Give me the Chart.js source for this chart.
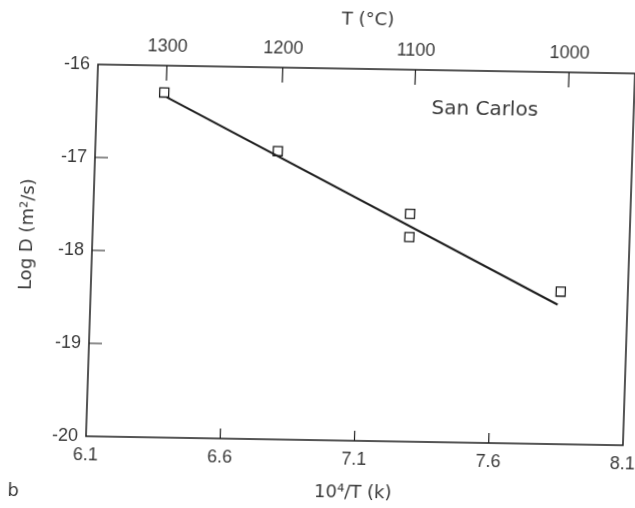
<!DOCTYPE html>
<html>
<head>
<meta charset="utf-8">
<script src="https://cdn.jsdelivr.net/npm/chart.js@4.4.0/dist/chart.umd.min.js"></script>
<style>
  html, body { margin: 0; padding: 0; background: #fff; overflow: hidden; }
  #wrap { width: 635px; height: 508px; overflow: hidden; position: relative; }
  /* the scanned figure sits slightly askew on the page */
  #chart {
    position: absolute; left: 0; top: 0;
    transform-origin: 360.5px 255px;
    transform: matrix(1, 0.0168, -0.0323, 1, 0, 0);
  }
</style>
</head>
<body>
<div id="wrap"><canvas id="chart" width="650" height="508"></canvas></div>
<script>
// values
const tempTicksC = [1300, 1200, 1100, 1000];
const bottomTicks = [6.1, 6.6, 7.1, 7.6, 8.1];
const leftTicks = [-20, -19, -18, -17, -16];

const invT = [6.35, 6.78, 7.28, 7.28, 7.85];
const logD = [-16.29, -16.90, -17.55, -17.80, -18.36];

const fitX = [6.36, 7.84];
const fitY = [-16.34, -18.50];

const ink = "#1e1e1e";
const textInk = "#3a3a3a";

const frame = {
    id: "frame",
    afterDraw(chart) {
        const { ctx, chartArea: a, scales } = chart;
        ctx.save();
        ctx.strokeStyle = ink;
        ctx.lineWidth = 1.5;
        ctx.strokeRect(a.left, a.top, a.right - a.left, a.bottom - a.top);

        // inward ticks
        ctx.lineWidth = 1.2;
        ctx.beginPath();
        scales.x.ticks.forEach(t => {
            const px = scales.x.getPixelForValue(t.value);
            if (px > a.left + 2 && px < a.right - 2) {
                ctx.moveTo(px, a.bottom);
                ctx.lineTo(px, a.bottom - 10);
            }
        });
        scales.x2.ticks.forEach(t => {
            const px = scales.x2.getPixelForValue(t.value);
            ctx.moveTo(px, a.top);
            ctx.lineTo(px, a.top + 15);
        });
        scales.y.ticks.forEach(t => {
            const py = scales.y.getPixelForValue(t.value);
            if (py > a.top + 2 && py < a.bottom - 2) {
                ctx.moveTo(a.left, py);
                ctx.lineTo(a.left + 13, py);
            }
        });
        ctx.stroke();

        ctx.fillStyle = textInk;
        ctx.textAlign = "center";
        ctx.textBaseline = "middle";
        ctx.font = "20px 'DejaVu Sans'";
        ctx.fillText("San Carlos", 480, 108);

        ctx.font = "18px 'DejaVu Sans'";
        ctx.fillText("b", 21, 497);

        ctx.translate(27, 240);
        ctx.rotate(-Math.PI / 2);
        ctx.fillText("Log D (m²/s)", 0, 0);
        ctx.restore();
    }
};

const tickFont = { family: "'Liberation Sans', Arial, sans-serif", size: 18 };
const titleFont = { family: "'DejaVu Sans', sans-serif", size: 18 };

const noSidePad = s => { s.paddingLeft = 0; s.paddingRight = 0; };

new Chart(document.getElementById("chart"), {
    type: "scatter",
    data: {
        datasets: [
            {
                label: "fit",
                data: fitX.map((x, i) => ({ x, y: fitY[i] })),
                showLine: true,
                borderColor: ink,
                borderWidth: 2,
                pointRadius: 0
            },
            {
                label: "San Carlos",
                data: invT.map((x, i) => ({ x, y: logD[i] })),
                pointStyle: "rect",
                pointRadius: 6.4,
                pointBorderWidth: 1.3,
                borderColor: ink,
                backgroundColor: "rgba(255,255,255,0)"
            }
        ]
    },
    options: {
        responsive: false,
        animation: false,
        layout: { padding: { left: 0, right: 21, top: 0, bottom: 0 } },
        plugins: {
            legend: { display: false },
            tooltip: { enabled: false }
        },
        scales: {
            x: {
                type: "linear",
                position: "bottom",
                min: 6.1,
                max: 8.1,
                afterBuildTicks: s => { s.ticks = bottomTicks.map(v => ({ value: v })); },
                afterFit: s => { s.height = 67; noSidePad(s); },
                grid: { display: false, drawTicks: false },
                border: { display: false },
                ticks: {
                    padding: 8,
                    color: textInk,
                    font: tickFont,
                    maxRotation: 0,
                    callback: v => v.toFixed(1)
                },
                title: {
                    display: true,
                    text: "10⁴/T (k)",
                    color: textInk,
                    font: titleFont,
                    padding: { top: 0, bottom: 4 }
                }
            },
            x2: {
                type: "linear",
                position: "top",
                min: 6.1,
                max: 8.1,
                afterBuildTicks: s => { s.ticks = tempTicksC.map(t => ({ value: 1e4 / (t + 273.15) })); },
                afterFit: s => { s.height = 69; noSidePad(s); },
                grid: { display: false, drawTicks: false },
                border: { display: false },
                ticks: {
                    padding: 8,
                    color: textInk,
                    font: tickFont,
                    maxRotation: 0,
                    callback: (v, i) => String(tempTicksC[i])
                },
                title: {
                    display: true,
                    text: "T (°C)",
                    color: textInk,
                    font: titleFont,
                    padding: { top: 10, bottom: 0 }
                }
            },
            y: {
                type: "linear",
                min: -20,
                max: -16,
                afterBuildTicks: s => { s.ticks = leftTicks.map(v => ({ value: v })); },
                afterFit: s => { s.width = 92; },
                grid: { display: false, drawTicks: false },
                border: { display: false },
                ticks: {
                    padding: 8,
                    color: textInk,
                    font: tickFont,
                    callback: v => String(v)
                }
            }
        }
    },
    plugins: [frame]
});
</script>
</body>
</html>
